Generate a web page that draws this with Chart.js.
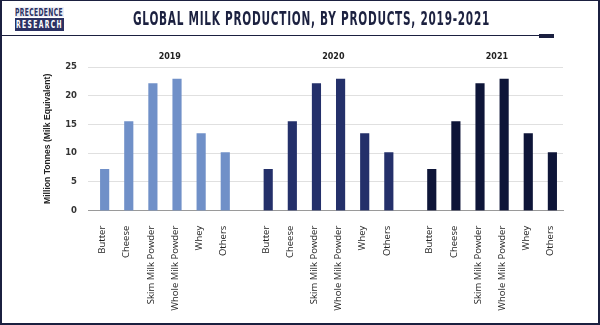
<!DOCTYPE html>
<html>
<head>
<meta charset="utf-8">
<script src="https://cdn.jsdelivr.net/npm/chart.js@4.4.0/dist/chart.umd.min.js"></script>
<style>
  html, body { margin: 0; padding: 0; background: #fff; }
  #page { position: relative; width: 600px; height: 325px; overflow: hidden; background: #fff; }
  #chart { position: absolute; left: 0; top: 0; }
  .logo-top, .logo-bottom {
    position: absolute; left: 15px; width: 49px; white-space: nowrap; overflow: hidden;
    font-family: "DejaVu Sans Condensed", "DejaVu Sans", sans-serif;
    font-weight: bold; font-size: 0; line-height: 0;
  }
  .logo-top { top: 7px; height: 10px; background: #eeeef5; }
  .logo-bottom { top: 18px; height: 13px; background: #2b3163; }
  .logo-top span, .logo-bottom span { display: inline-block; transform-origin: 0 0; vertical-align: top; }
  .logo-top span { font-size: 10.5px; line-height: 11px; color: #2b3163; }
  .logo-bottom span { font-size: 11px; line-height: 13px; color: #fff; margin-left: 1px; }
  #title {
    position: absolute; left: 133px; top: 9px; white-space: nowrap; transform-origin: 0 0;
    font-family: "DejaVu Sans Condensed", "DejaVu Sans", sans-serif;
    font-weight: bold; font-size: 19px; line-height: 19px; color: #1c2140;
  }
  #rule { position: absolute; left: 0; top: 35px; width: 540px; height: 1px; background: #1b2040; }
  #dash { position: absolute; left: 539px; top: 34px; width: 15px; height: 4px; background: #1b2040; }
  #frame {
    position: absolute; left: 0; top: 0; width: 600px; height: 325px; box-sizing: border-box;
    border: 2px solid #1b2040; border-top-width: 1px; pointer-events: none;
  }
</style>
</head>
<body>
<div id="page">
  <canvas id="chart" width="600" height="325"></canvas>
  <div class="logo-top"><span id="logoTop">PRECEDENCE</span></div>
  <div class="logo-bottom"><span id="logoBottom">RESEARCH</span></div>
  <div id="title">GLOBAL MILK PRODUCTION, BY PRODUCTS, 2019-2021</div>
  <div id="rule"></div>
  <div id="dash"></div>
  <div id="frame"></div>
</div>
<script>
// Data
const products = ['Butter', 'Cheese', 'Skim Milk Powder', 'Whole Milk Powder', 'Whey', 'Others'];
const years = ['2019', '2020', '2021'];
const values2019 = [7.2, 15.5, 22.1, 22.9, 13.4, 10.1];
const values2020 = [7.2, 15.5, 22.1, 22.9, 13.4, 10.1];
const values2021 = [7.2, 15.5, 22.1, 22.9, 13.4, 10.1];
const yTicks = [0, 5, 10, 15, 20, 25];
const yearColors = ['#7090c8', '#24306a', '#0e1538'];

const GROUP_GAP = 0.78; // extra space between year groups, in bar slots
const groupStep = products.length + GROUP_GAP;
const seriesValues = [values2019, values2020, values2021];

// every bar gets a slot on a linear x axis, groups separated by GROUP_GAP
const slotPositions = [];
const slotLabels = [];
years.forEach((y, g) => {
    products.forEach((p, i) => {
        slotPositions.push(g * groupStep + i);
        slotLabels.push(p);
    });
});

// squeeze header text into the width it takes in the picture (condensed look)
function fitWidth(id, target, spacing) {
    const el = document.getElementById(id);
    el.style.letterSpacing = spacing + 'px';
    const natural = el.getBoundingClientRect().width;
    el.style.transform = 'scaleX(' + (target / natural) + ')';
}
fitWidth('title', 357, 1.2);
fitWidth('logoTop', 48, 0.6);
fitWidth('logoBottom', 47, 2.2);

// year captions sit a little right of each group's middle, as in the picture
const yearTitles = {
    id: 'yearTitles',
    afterDraw(chart) {
        const ctx = chart.ctx;
        const x = chart.scales.x;
        ctx.save();
        ctx.font = 'bold 8px "DejaVu Sans", sans-serif';
        ctx.fillStyle = '#222';
        ctx.textAlign = 'center';
        ctx.textBaseline = 'middle';
        years.forEach((y, g) => {
            ctx.fillText(y, x.getPixelForValue(g * groupStep + 2.7), 56.5);
        });
        ctx.restore();
    }
};

const ctx = document.getElementById('chart').getContext('2d');
new Chart(ctx, {
    type: 'bar',
    data: {
        datasets: years.map((y, g) => ({
            label: y,
            data: seriesValues[g].map((v, i) => ({ x: g * groupStep + i, y: v })),
            backgroundColor: yearColors[g],
            barThickness: 8.5,
            grouped: false
        }))
    },
    options: {
        responsive: false,
        animation: false,
        layout: { padding: { left: 42, top: 67, right: 37, bottom: 0 } },
        plugins: { legend: { display: false }, tooltip: { enabled: false } },
        scales: {
            x: {
                type: 'linear',
                offset: false,
                min: -0.69,
                max: 19.0,
                afterBuildTicks: (scale) => { scale.ticks = slotPositions.map(v => ({ value: v })); },
                afterFit: (scale) => { scale.height = 114.3; },
                grid: { display: false },
                border: { display: true, color: '#9a9a9a', width: 1 },
                ticks: {
                    autoSkip: false,
                    minRotation: 90,
                    maxRotation: 90,
                    padding: 7,
                    labelOffset: -2,
                    color: '#222',
                    font: { family: '"Open Sans", sans-serif', size: 9.5 },
                    callback: (value, index) => slotLabels[index]
                }
            },
            y: {
                min: 0,
                max: 25,
                afterBuildTicks: (scale) => { scale.ticks = yTicks.map(v => ({ value: v })); },
                afterFit: (scale) => { scale.width = 46; },
                grid: { color: '#e0e0e0', drawTicks: false },
                border: { display: false },
                ticks: {
                    padding: 11,
                    color: '#333',
                    font: { family: '"DejaVu Sans", sans-serif', size: 8.5, weight: 'bold' }
                },
                title: {
                    display: true,
                    text: 'Million Tonnes (Milk Equivalent)',
                    padding: 0,
                    color: '#222',
                    font: { family: '"Liberation Sans", Arial, sans-serif', size: 8.6, weight: 'bold' }
                }
            }
        }
    },
    plugins: [yearTitles]
});
</script>
</body>
</html>
